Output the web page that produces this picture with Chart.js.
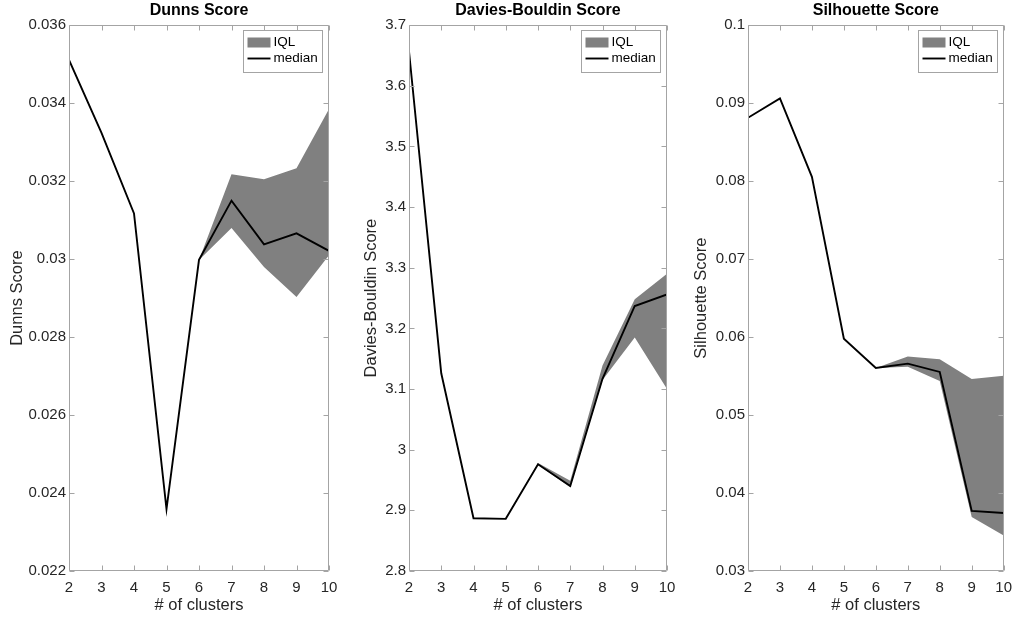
<!DOCTYPE html>
<html>
<head>
<meta charset="utf-8">
<script src="https://cdn.jsdelivr.net/npm/chart.js@4.4.1/dist/chart.umd.min.js"></script>
<style>
  html, body { margin: 0; padding: 0; background: #ffffff; }
  body { width: 1014px; height: 619px; position: relative; overflow: hidden; }
  canvas { position: absolute; top: 0; }
</style>
</head>
<body>
<canvas id="c1" width="340" height="619" style="left:0px;width:340px;height:619px"></canvas>
<canvas id="c2" width="340" height="619" style="left:340px;width:340px;height:619px"></canvas>
<canvas id="c3" width="334" height="619" style="left:680px;width:334px;height:619px"></canvas>
<script>
// ---- data ----
const clusters = [2, 3, 4, 5, 6, 7, 8, 9, 10];

const dunnsMedian = [0.03511, 0.03324, 0.03117, 0.02359, 0.02998, 0.03150, 0.03038, 0.03066, 0.03021];
const dunnsUpper  = [0.03511, 0.03324, 0.03117, 0.02359, 0.02998, 0.03218, 0.03205, 0.03233, 0.03385];
const dunnsLower  = [0.03511, 0.03324, 0.03117, 0.02359, 0.02998, 0.03080, 0.02980, 0.02903, 0.03010];

const dbMedian = [3.657, 3.126, 2.887, 2.886, 2.976, 2.940, 3.117, 3.237, 3.256];
const dbUpper  = [3.657, 3.126, 2.887, 2.886, 2.978, 2.949, 3.139, 3.248, 3.290];
const dbLower  = [3.657, 3.126, 2.887, 2.886, 2.975, 2.938, 3.115, 3.185, 3.100];

const silMedian = [0.08813, 0.09060, 0.08055, 0.05978, 0.05604, 0.05659, 0.05553, 0.03770, 0.03744];
const silUpper  = [0.08813, 0.09060, 0.08055, 0.05978, 0.05604, 0.05750, 0.05715, 0.05462, 0.05503];
const silLower  = [0.08813, 0.09060, 0.08055, 0.05978, 0.05604, 0.05620, 0.05437, 0.03694, 0.03456];

const dunnsTicks = [0.022, 0.024, 0.026, 0.028, 0.030, 0.032, 0.034, 0.036];
const dbTicks    = [2.8, 2.9, 3.0, 3.1, 3.2, 3.3, 3.4, 3.5, 3.6, 3.7];
const silTicks   = [0.03, 0.04, 0.05, 0.06, 0.07, 0.08, 0.09, 0.1];

const titles  = ['Dunns Score', 'Davies-Bouldin Score', 'Silhouette Score'];
const yLabels = ['Dunns Score', 'Davies-Bouldin Score', 'Silhouette Score'];
const xLabel  = '# of clusters';
const seriesNames = ['median', 'IQL'];

// ---- styling ----
const FONT = "'Liberation Sans', Arial, Helvetica, sans-serif";
const BOX_COLOR = '#a4a4a4';
const TEXT_COLOR = '#262626';
const BAND_COLOR = '#808080';

const toXY = (xs, ys) => xs.map((x, i) => ({ x: x, y: ys[i] }));
const fmt = v => String(Number(v.toFixed(4)));

const boxPlugin = {
  id: 'matlabBox',
  afterDatasetsDraw(chart) {
    const { ctx, chartArea: a, scales } = chart;
    const L = Math.round(a.left) + 0.5, R = Math.round(a.right) - 0.5;
    const T = Math.round(a.top) + 0.5, B = Math.round(a.bottom) - 0.5;
    ctx.save();
    ctx.strokeStyle = BOX_COLOR;
    ctx.lineWidth = 1;
    ctx.beginPath();
    ctx.rect(L, T, R - L, B - T);
    ctx.stroke();
    const tl = 5;
    ctx.beginPath();
    scales.x.ticks.forEach(t => {
      const px = Math.round(scales.x.getPixelForValue(t.value)) + 0.5;
      ctx.moveTo(px, B); ctx.lineTo(px, B - tl);
      ctx.moveTo(px, T); ctx.lineTo(px, T + tl);
    });
    scales.y.ticks.forEach(t => {
      const py = Math.round(scales.y.getPixelForValue(t.value)) + 0.5;
      ctx.moveTo(L, py); ctx.lineTo(L + tl, py);
      ctx.moveTo(R, py); ctx.lineTo(R - tl, py);
    });
    ctx.stroke();

    // legend (northeast, inside axes)
    const ds = chart.data.datasets;
    const med = ds[0], band = ds[1];
    const w = 79, h = 42;
    const bx = Math.round(a.right) - 7 - w + 0.5, by = Math.round(a.top) + 5 + 0.5;
    ctx.fillStyle = '#ffffff';
    ctx.fillRect(bx, by, w, h);
    ctx.strokeStyle = BOX_COLOR;
    ctx.strokeRect(bx, by, w, h);
    ctx.fillStyle = band.backgroundColor;
    ctx.fillRect(bx + 4, by + 7, 23, 10);
    ctx.strokeStyle = med.borderColor;
    ctx.lineWidth = med.borderWidth;
    ctx.beginPath();
    ctx.moveTo(bx + 4, by + 28);
    ctx.lineTo(bx + 27, by + 28);
    ctx.stroke();
    ctx.fillStyle = '#000000';
    ctx.font = '13.5px ' + FONT;
    ctx.textAlign = 'left';
    ctx.textBaseline = 'middle';
    ctx.fillText(band.label, bx + 30, by + 12);
    ctx.fillText(med.label, bx + 30, by + 28);
    ctx.restore();
  }
};

function makePanel(id, idx, med, up, lo, yTicks, yAxisW, padRight, yTitlePad) {
  const ctx = document.getElementById(id).getContext('2d');
  return new Chart(ctx, {
    type: 'line',
    data: {
      datasets: [
        { label: seriesNames[0], data: toXY(clusters, med), borderColor: '#000000', borderWidth: 1.9,
          pointRadius: 0, tension: 0, fill: false, order: 0 },
        { label: seriesNames[1], data: toXY(clusters, up), borderColor: BAND_COLOR, borderWidth: 0,
          backgroundColor: BAND_COLOR, pointRadius: 0, tension: 0, fill: '+1', order: 1 },
        { label: 'IQL lower', data: toXY(clusters, lo), borderColor: BAND_COLOR, borderWidth: 0,
          backgroundColor: BAND_COLOR, pointRadius: 0, tension: 0, fill: false, order: 2 }
      ]
    },
    options: {
      responsive: false,
      animation: false,
      devicePixelRatio: 1,
      layout: { padding: { left: 0, right: padRight, top: 0, bottom: 0 } },
      plugins: {
        legend: { display: false },
        tooltip: { enabled: false },
        title: {
          display: true, text: titles[idx], fullSize: false, color: '#000000',
          font: { family: FONT, size: 16, weight: 'bold' },
          padding: { top: 1, bottom: 5 }
        }
      },
      scales: {
        x: {
          type: 'linear', min: clusters[0], max: clusters[clusters.length - 1],
          afterBuildTicks: s => { s.ticks = clusters.map(v => ({ value: v })); },
          afterFit: s => { s.height = 48; },
          grid: { display: false, drawTicks: false },
          border: { display: false },
          ticks: { color: TEXT_COLOR, padding: 2, maxRotation: 0, autoSkip: false,
                   font: { family: FONT, size: 15, lineHeight: 2.0 }, callback: v => String(v) },
          title: { display: true, text: xLabel, color: TEXT_COLOR,
                   font: { family: FONT, size: 16.5 }, padding: { top: 0, bottom: 4 } }
        },
        y: {
          type: 'linear', min: yTicks[0], max: yTicks[yTicks.length - 1],
          afterBuildTicks: s => { s.ticks = yTicks.map(v => ({ value: v })); },
          afterFit: s => { s.width = yAxisW; },
          grid: { display: false, drawTicks: false },
          border: { display: false },
          ticks: { color: TEXT_COLOR, padding: 3, autoSkip: false,
                   font: { family: FONT, size: 15 }, callback: v => fmt(v) },
          title: { display: true, text: yLabels[idx], color: TEXT_COLOR,
                   font: { family: FONT, size: 16.5 }, padding: { top: yTitlePad, bottom: 0 } }
        }
      }
    },
    plugins: [boxPlugin]
  });
}

makePanel('c1', 0, dunnsMedian, dunnsUpper, dunnsLower, dunnsTicks, 69, 11, 8);
makePanel('c2', 1, dbMedian, dbUpper, dbLower, dbTicks, 69, 13, 22);
makePanel('c3', 2, silMedian, silUpper, silLower, silTicks, 68, 10, 12);
</script>
</body>
</html>
